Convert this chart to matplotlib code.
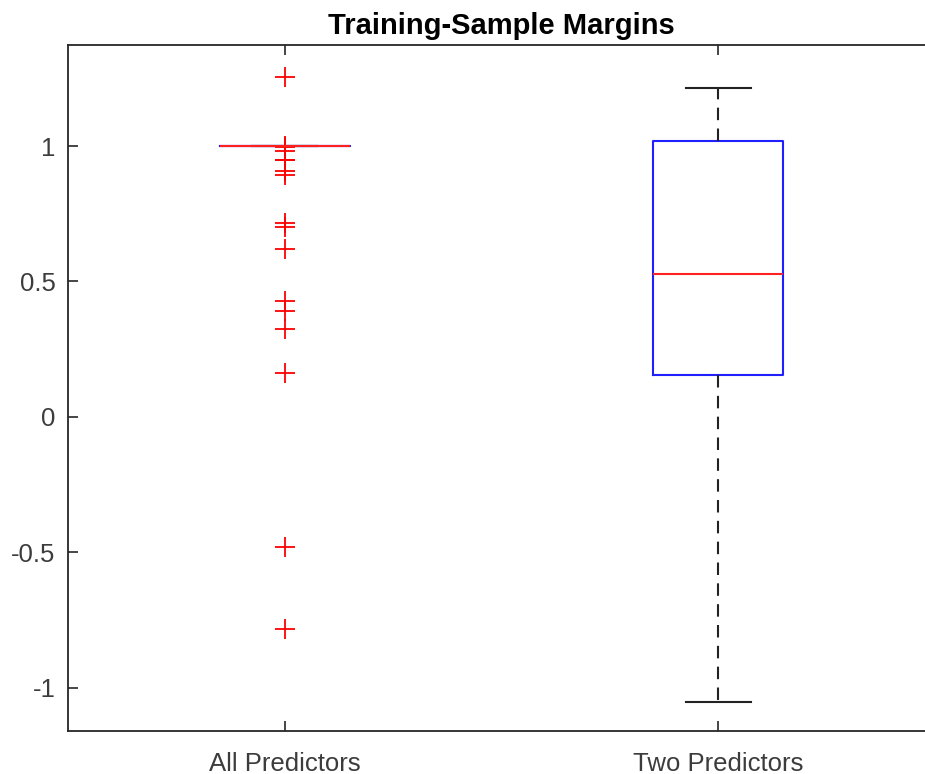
import matplotlib
matplotlib.use("Agg")
import matplotlib.pyplot as plt

plt.rcParams['font.family'] = ['Liberation Sans', 'DejaVu Sans']

labels = ['All Predictors', 'Two Predictors']

# box stats
medians = [1.0, 0.527]
q1s = [1.0, 0.155]
q3s = [1.0, 1.017]
whis_lo = [1.0, -1.05]
whis_hi = [1.0, 1.215]
fliers_all = [1.254, 1.0, 0.995, 0.982, 0.95, 0.948, 0.909, 0.893,
              0.715, 0.702, 0.62, 0.428, 0.391, 0.324, 0.161, -0.481, -0.782]
fliers_two = []

stats = []
for i, lab in enumerate(labels):
    stats.append(dict(label=lab, med=medians[i], q1=q1s[i], q3=q3s[i],
                      whislo=whis_lo[i], whishi=whis_hi[i],
                      fliers=[fliers_all, fliers_two][i]))

fig = plt.figure(figsize=(9.25, 7.74), dpi=100)
ax = fig.add_axes([68/925, 1-731/774, (935-68)/925, (731-45)/774])

ax.bxp(stats, positions=[1, 2], widths=0.3,
       boxprops=dict(color='#2020ff', linewidth=1.5),
       medianprops=dict(color='#ff2020', linewidth=1.5),
       whiskerprops=dict(color='#222222', linewidth=1.5, linestyle=(0, (6, 4))),
       capprops=dict(color='#222222', linewidth=1.5),
       flierprops=dict(marker='+', markeredgecolor='red', markersize=14,
                       markeredgewidth=1.3, linestyle='none'))

ax.set_xlim(0.5, 2.5)
ax.set_ylim(-1.1587, 1.3727)
ax.set_yticks([-1, -0.5, 0, 0.5, 1])
ax.set_yticklabels(['-1', '-0.5', '0', '0.5', '1'])
ax.set_xticks([1, 2])
ax.set_xticklabels(labels)

for s in ax.spines.values():
    s.set_color('#262626')
    s.set_linewidth(1.3)
ax.tick_params(direction='in', length=7, width=1.2, color='#262626',
               labelcolor='#3c3c3c', labelsize=18.5, top=True, right=True)
ax.tick_params(axis='x', pad=15)
ax.tick_params(axis='y', pad=9)

ax.set_title('Training-Sample Margins', fontsize=21, fontweight='bold', pad=8)

fig.savefig('out.png', dpi=100)
